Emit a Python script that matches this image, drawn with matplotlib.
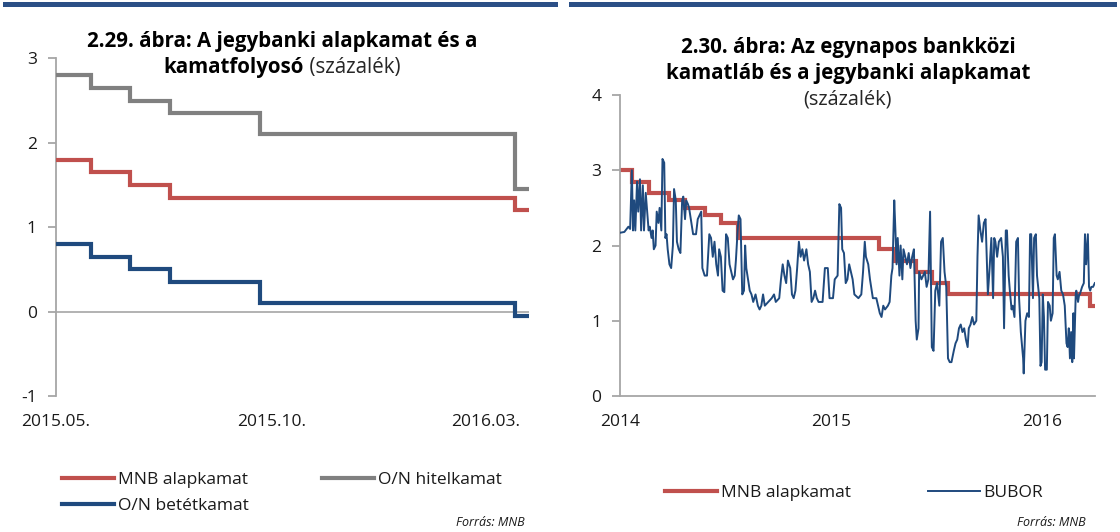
import matplotlib
matplotlib.use('Agg')
import matplotlib.pyplot as plt
import pandas as pd
from matplotlib.lines import Line2D

plt.rcParams['font.family'] = ['Open Sans', 'DejaVu Sans']

# ---------------- data: left chart (2.29) ----------------
left_dates = ['2015-05-01', '2015-05-26', '2015-06-23', '2015-07-21',
              '2015-09-23', '2016-03-22', '2016-04-01']
mnb_base_l = [1.80, 1.65, 1.50, 1.35, 1.35, 1.20, 1.20]
on_lending = [2.80, 2.65, 2.50, 2.35, 2.10, 1.45, 1.45]
on_deposit = [0.80, 0.65, 0.50, 0.35, 0.10, -0.05, -0.05]
left_ticks = ['2015-05-01', '2015-10-01', '2016-03-01']
left_ticklabels = ['2015.05.', '2015.10.', '2016.03.']

# ---------------- data: right chart (2.30) ----------------
base_dates_r = ['2014-01-01', '2014-01-22', '2014-02-19', '2014-03-26', '2014-04-23',
                '2014-05-28', '2014-06-25', '2014-07-23', '2015-03-25', '2015-04-22',
                '2015-05-27', '2015-06-24', '2015-07-22', '2016-03-23', '2016-03-31']
mnb_base_r = [3.00, 2.85, 2.70, 2.60, 2.50, 2.40, 2.30, 2.10, 1.95, 1.80,
              1.65, 1.50, 1.35, 1.20, 1.20]

bubor_start = '2014-01-01'
bubor_day = [0, 7, 14, 17, 20, 22, 24, 26, 29, 31,
             34, 36, 39, 41, 44, 46, 49, 51, 54, 56,
             58, 61, 63, 66, 68, 71, 73, 76, 78, 80,
             82, 85, 88, 91, 93, 96, 98, 101, 104, 107,
             109, 112, 114, 117, 119, 123, 126, 131, 134, 137,
             140, 142, 146, 150, 154, 157, 160, 163, 166, 169,
             171, 174, 177, 180, 183, 186, 189, 192, 195, 198,
             200, 203, 205, 208, 211, 214, 216, 218, 221, 224,
             227, 230, 234, 238, 241, 244, 247, 250, 256, 262,
             266, 269, 275, 278, 281, 284, 287, 290, 294, 297,
             300, 303, 306, 309, 312, 315, 318, 322, 325, 328,
             331, 334, 337, 340, 343, 350, 354, 359, 362, 368,
             371, 376, 379, 382, 384, 387, 390, 393, 396, 399,
             402, 405, 412, 417, 420, 423, 425, 429, 432, 435,
             437, 443, 446, 449, 452, 455, 458, 463, 466, 469,
             471, 474, 476, 478, 480, 483, 485, 488, 490, 493,
             496, 499, 502, 505, 508, 511, 513, 516, 517, 521,
             524, 527, 530, 533, 536, 539, 542, 545, 548, 552,
             555, 558, 561, 564, 567, 570, 573, 577, 580, 583,
             586, 589, 592, 595, 598, 601, 603, 606, 609, 612,
             616, 618, 620, 623, 626, 629, 632, 636, 639, 642,
             645, 647, 649, 652, 655, 659, 662, 664, 667, 669,
             672, 674, 677, 679, 682, 685, 688, 690, 693, 697,
             698, 701, 704, 707, 709, 711, 714, 716, 719, 721,
             725, 727, 729, 731, 733, 735, 738, 740, 743, 745,
             748, 750, 752, 755, 757, 760, 763, 766, 769, 772,
             774, 776, 778, 780, 782, 784, 785, 788, 789, 792,
             794, 795, 799, 802, 804, 806, 809, 811, 813, 815,
             818, 821]
bubor = [2.17, 2.18, 2.25, 2.22, 3.0, 2.2, 2.6, 2.2, 2.85, 2.45,
         2.88, 2.2, 2.8, 2.2, 2.7, 2.5, 2.2, 2.25, 2.1, 2.2,
         1.95, 2.0, 2.45, 2.3, 2.5, 2.2, 3.15, 3.1, 2.1, 2.15,
         1.95, 1.75, 1.7, 2.0, 2.75, 2.6, 2.05, 1.95, 1.9, 2.6,
         2.65, 2.35, 2.6, 2.55, 2.5, 2.3, 2.15, 2.15, 2.35, 2.4,
         2.45, 1.7, 1.6, 1.6, 2.15, 2.1, 1.85, 2.05, 1.75, 1.6,
         1.95, 1.85, 1.4, 1.38, 2.15, 2.1, 1.75, 1.65, 1.55, 1.6,
         1.8, 2.2, 2.4, 2.35, 1.35, 1.4, 2.0, 1.7, 1.55, 1.4,
         1.35, 1.25, 1.35, 1.2, 1.15, 1.2, 1.35, 1.2, 1.25, 1.3,
         1.35, 1.25, 1.3, 1.55, 1.75, 1.6, 1.5, 1.8, 1.7, 1.35,
         1.3, 1.4, 1.7, 2.05, 1.85, 1.95, 1.8, 1.95, 1.75, 1.65,
         1.25, 1.3, 1.4, 1.3, 1.25, 1.25, 1.7, 1.7, 1.3, 1.3,
         1.55, 1.6, 2.55, 2.5, 1.95, 1.9, 1.5, 1.55, 1.75, 1.65,
         1.55, 1.35, 1.3, 1.35, 1.65, 2.05, 1.85, 1.75, 1.55, 1.4,
         1.3, 1.3, 1.2, 1.1, 1.05, 1.2, 1.15, 1.2, 1.25, 1.6,
         1.7, 2.6, 2.2, 1.75, 2.1, 1.6, 2.0, 1.55, 1.95, 1.85,
         1.75, 1.9, 1.7, 1.85, 1.95, 1.0, 0.75, 0.9, 1.65, 1.55,
         1.6, 1.65, 1.45, 1.55, 2.45, 0.65, 0.6, 1.4, 1.5, 1.2,
         2.05, 2.1, 1.65, 1.45, 0.5, 0.45, 0.45, 0.6, 0.7, 0.75,
         0.9, 0.95, 0.85, 0.9, 0.75, 0.65, 0.9, 0.95, 1.05, 0.95,
         1.0, 1.85, 2.4, 2.2, 2.05, 2.3, 2.35, 1.35, 1.7, 2.1,
         1.3, 2.1, 2.05, 1.85, 2.05, 2.1, 1.85, 0.9, 2.2, 2.2,
         1.6, 1.4, 1.15, 1.2, 1.05, 2.05, 2.1, 1.3, 0.85, 0.5,
         0.3, 1.0, 1.1, 1.05, 2.15, 2.15, 1.3, 2.1, 2.15, 1.6,
         1.3, 0.4, 0.45, 1.35, 1.05, 0.35, 0.35, 1.25, 1.2, 1.0,
         1.1, 2.1, 2.15, 1.6, 1.55, 1.65, 1.4, 1.35, 1.2, 0.7,
         0.65, 0.9, 0.5, 0.85, 0.45, 1.1, 0.5, 1.35, 1.4, 1.25,
         1.35, 1.35, 1.45, 1.5, 2.15, 1.75, 2.15, 1.45, 1.4, 1.45,
         1.45, 1.5]
right_ticks = ['2014-01-01', '2015-01-01', '2016-01-01']
right_ticklabels = ['2014', '2015', '2016']

# ---------------- styling ----------------
RED = '#c0504d'
GRAY = '#808080'
BLUE = '#1f4a7e'
AXC = '#a6a6a6'
TOPBAR = '#2b4f86'
TXT = '#1a1a1a'
FS = 12.5

W, H = 1120, 532
fig = plt.figure(figsize=(W / 100, H / 100), dpi=100)


def fx(px):
    return px / W


def fy(py):
    return 1 - py / H


def style_axis(ax):
    for s in ['top', 'right', 'bottom']:
        ax.spines[s].set_visible(False)
    ax.spines['left'].set_color(AXC)
    ax.spines['left'].set_linewidth(1.3)
    ax.tick_params(axis='y', direction='out', length=5.5, width=1.3, color=AXC,
                   pad=8, labelsize=FS, labelcolor=TXT)
    ax.tick_params(axis='x', length=0, pad=13, labelsize=FS, labelcolor=TXT)
    ax.set_facecolor('none')


# ---- left axes ----
ax1 = fig.add_axes([fx(55.6), fy(396), fx(529) - fx(55.6), fy(58.3) - fy(396)])
style_axis(ax1)
ld = pd.to_datetime(left_dates)
ax1.axhline(0, color=AXC, lw=1.2, zorder=1)
ax1.plot(ld, on_lending, drawstyle='steps-post', color=GRAY, lw=3.0, zorder=3,
         solid_joinstyle='miter')
ax1.plot(ld, mnb_base_l, drawstyle='steps-post', color=RED, lw=3.0, zorder=3,
         solid_joinstyle='miter')
ax1.plot(ld, on_deposit, drawstyle='steps-post', color=BLUE, lw=3.0, zorder=3,
         solid_joinstyle='miter')
ax1.set_ylim(-1, 3)
ax1.set_yticks([-1, 0, 1, 2, 3])
ax1.set_yticklabels(['-1', '0', '1', '2', '3'])
ax1.set_xlim(ld[0], ld[-1])
ax1.set_xticks(pd.to_datetime(left_ticks))
ax1.set_xticklabels(left_ticklabels)

# ---- right axes ----
ax2 = fig.add_axes([fx(620.3), fy(396), fx(1094.8) - fx(620.3), fy(95) - fy(396)])
style_axis(ax2)
ax2.spines['bottom'].set_visible(True)
ax2.spines['bottom'].set_color(AXC)
ax2.spines['bottom'].set_linewidth(1.3)
rd = pd.to_datetime(base_dates_r)
bd = pd.Timestamp(bubor_start) + pd.to_timedelta(bubor_day, unit='D')
ax2.plot(rd, mnb_base_r, drawstyle='steps-post', color=RED, lw=3.0, zorder=2,
         solid_joinstyle='miter')
ax2.plot(bd, bubor, color=BLUE, lw=1.4, zorder=3)
ax2.set_ylim(0, 4)
ax2.set_yticks([0, 1, 2, 3, 4])
ax2.set_xlim(pd.Timestamp('2014-01-01'), pd.Timestamp('2016-04-01'))
ax2.set_xticks(pd.to_datetime(right_ticks))
ax2.set_xticklabels(right_ticklabels)

# ---- top bars ----
fig.add_artist(Line2D([fx(5), fx(555)], [fy(4), fy(4)], color=TOPBAR, lw=3.6,
                      transform=fig.transFigure))
fig.add_artist(Line2D([fx(571), fx(1114)], [fy(4), fy(4)], color=TOPBAR, lw=3.6,
                      transform=fig.transFigure))

# ---- titles ----
TFS = 14.8
fig.text(fx(282), fy(41), '2.29. ábra: A jegybanki alapkamat és a', ha='center',
         va='center', fontsize=TFS, fontweight='bold', color='black')

r = fig.canvas.get_renderer()
tb = fig.text(0, fy(67), 'kamatfolyosó', ha='left', va='center', fontsize=TFS,
              fontweight='bold', color='black')
tr = fig.text(0, fy(67), '\u00a0(százalék)', ha='left', va='center', fontsize=TFS,
              color='#262626')
w1 = tb.get_window_extent(r).width
w2 = tr.get_window_extent(r).width
x0 = 282 - (w1 + w2) / 2
tb.set_x(fx(x0))
tr.set_x(fx(x0 + w1))

fig.text(fx(848), fy(47), '2.30. ábra: Az egynapos bankközi', ha='center', va='center',
         fontsize=TFS, fontweight='bold', color='black')
fig.text(fx(848), fy(74), 'kamatláb és a jegybanki alapkamat', ha='center', va='center',
         fontsize=TFS, fontweight='bold', color='black')
fig.text(fx(848), fy(99), '(százalék)', ha='center', va='center', fontsize=TFS - 0.5,
         color='#262626')

# ---- legends ----
def legend_item(color, lw, label, xpx, ypx):
    h = Line2D([], [], color=color, lw=lw)
    fig.legend([h], [label], loc='center left', bbox_to_anchor=(fx(xpx), fy(ypx)),
               frameon=False, borderpad=0, borderaxespad=0, handlelength=3.0,
               handletextpad=0.2, fontsize=FS, labelcolor=TXT)


legend_item(RED, 3.0, 'MNB alapkamat', 62, 480)
legend_item(GRAY, 3.0, 'O/N hitelkamat', 322, 480)
legend_item(BLUE, 3.0, 'O/N betétkamat', 62, 506)
legend_item(RED, 3.0, 'MNB alapkamat', 665, 493)
legend_item(BLUE, 1.4, 'BUBOR', 928, 493)

fig.text(fx(525), fy(522), 'Forrás: MNB', ha='right', va='center', fontsize=9,
         fontstyle='italic', color=TXT)
fig.text(fx(1086), fy(522), 'Forrás: MNB', ha='right', va='center', fontsize=9,
         fontstyle='italic', color=TXT)

fig.savefig('out.png', dpi=100)
